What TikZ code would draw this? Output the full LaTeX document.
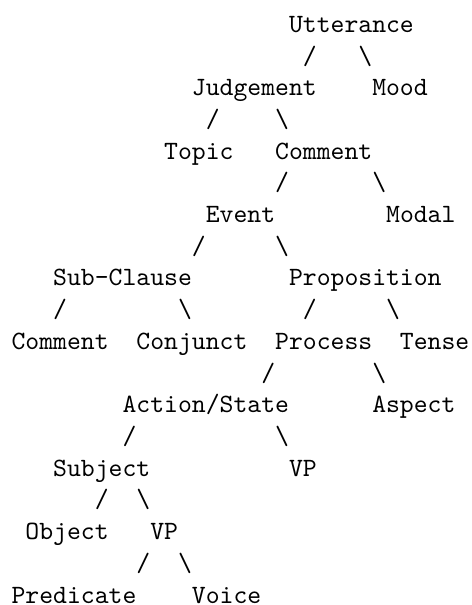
\documentclass[tikz,border=0pt]{standalone}
\begin{document}
\begin{tikzpicture}[x=5.25pt, y=12pt, word/.style={shape=rectangle, draw=none, inner sep=0pt, anchor=base west, font=\ttfamily}]
%%%%%%%%%%%%%%%%%%%%%%%%%%%%%%%%%%%%%%%%%%% HELP LINES
%\draw[help lines] (0,0) grid (33,-18);
\useasboundingbox (-4.2pt,12.24pt) rectangle (174.45pt,-216.76pt);

%%%%%%%%%%%%%%%%%%%%%%%%%%%%%%%%%%%%%%%%%%% upper levels
\node[word](utterance) at (20,0) {Utterance};
\node[word](ul) at (21,-1) {/};
\node[word](ur) at (25,-1) {\textbackslash};
\node[word](judgement) at (13,-2) {Judgement};
\node[word](mood) at (26,-2) {Mood};
\node[word](jl) at (14,-3) {/};
\node[word](jr) at (19,-3) {\textbackslash};
\node[word](topic) at (11,-4) {Topic};
\node[word](comment) at (19,-4) {Comment};
\node[word](cl) at (19,-5) {/};
\node[word](cr) at (26,-5) {\textbackslash};
\node[word](event) at (14,-6) {Event};
\node[word](modal) at (27,-6) {Modal};
\node[word](el) at (13,-7) {/};
\node[word](er) at (19,-7) {\textbackslash};

%%%%% clause and proposition
\node[word](subclause) at (3,-8) {Sub-Clause};
\node[word](proposition) at (20,-8) {Proposition};
\node[word](sl) at (3,-9) {/};
\node[word](sr) at (12,-9) {\textbackslash};
\node[word](pl) at (21,-9) {/};
\node[word](pr) at (27,-9) {\textbackslash};
\node[word](subcomment) at (0,-10) {Comment};
\node[word](conjunct) at (9,-10) {Conjunct};
\node[word](process) at (19,-10) {Process};
\node[word](tense) at (28,-10) {Tense};
\node[word](prl) at (18,-11) {/};
\node[word](prr) at (26,-11) {\textbackslash};

%%%%% action and its parts
\node[word](action) at (8,-12) {Action/State};
\node[word](aspect) at (26,-12) {Aspect};
\node[word](al) at (8,-13) {/};
\node[word](ar) at (19,-13) {\textbackslash};
\node[word](subject) at (3,-14) {Subject};
\node[word](vpa) at (20,-14) {VP};
\node[word](sbl) at (6,-15) {/};
\node[word](sbr) at (9,-15) {\textbackslash};
\node[word](object) at (1,-16) {Object};
\node[word](vpb) at (10,-16) {VP};
\node[word](vl) at (9,-17) {/};
\node[word](vr) at (12,-17) {\textbackslash};
\node[word](predicate) at (0,-18) {Predicate};
\node[word](voice) at (13,-18) {Voice};
\end{tikzpicture}
\end{document}
